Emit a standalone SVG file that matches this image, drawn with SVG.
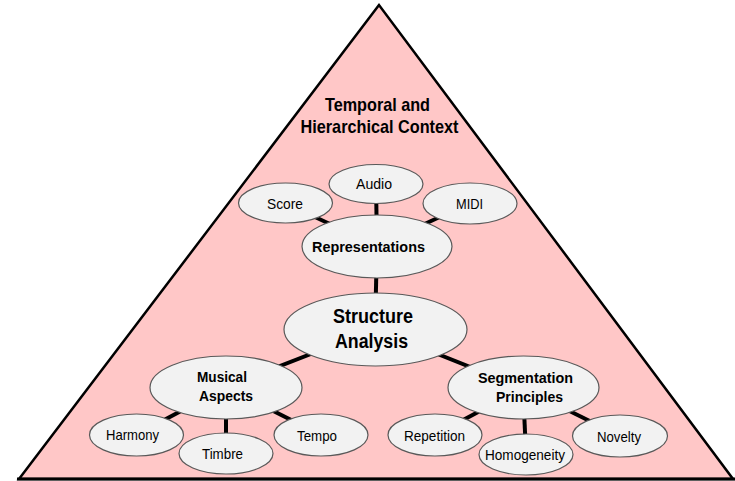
<svg xmlns="http://www.w3.org/2000/svg" width="735" height="481" viewBox="0 0 735 481">
<style>
.n ellipse{fill:#F2F2F2;stroke:#595959;stroke-width:1.2}
text{font-family:"Liberation Sans",Arial,sans-serif;fill:#000;text-anchor:middle}
.s{font-size:15px}
.b{font-size:15px;font-weight:bold}
.t{font-size:19px;font-weight:bold}
.l{font-size:20px;font-weight:bold}
.c line{stroke:#000;stroke-width:4}
</style>
<rect width="735" height="481" fill="#fff"/>
<g id="context">
<polygon points="379,5 19,479 733,479" fill="#FFC7C7" stroke="#000" stroke-width="2.5" stroke-linejoin="miter"/>
<line x1="17" y1="479" x2="735" y2="479" stroke="#000" stroke-width="3"/>
<text class="t" x="377.5" y="111" textLength="105" lengthAdjust="spacingAndGlyphs">Temporal and</text>
<text class="t" x="379.5" y="133" textLength="158" lengthAdjust="spacingAndGlyphs">Hierarchical Context</text>
</g>
<g class="c" id="connectors">
<line x1="285" y1="203" x2="377" y2="246"/>
<line x1="376" y1="184" x2="377" y2="246"/>
<line x1="470" y1="203" x2="377" y2="246"/>
<line x1="377" y1="246" x2="375" y2="329"/>
<line x1="375" y1="329" x2="226" y2="387"/>
<line x1="375" y1="329" x2="523" y2="388"/>
<line x1="226" y1="387" x2="136" y2="435"/>
<line x1="226" y1="387" x2="226" y2="453"/>
<line x1="226" y1="387" x2="321" y2="435"/>
<line x1="523" y1="388" x2="435" y2="435"/>
<line x1="523" y1="388" x2="526" y2="454"/>
<line x1="523" y1="388" x2="620" y2="436"/>
</g>
<g class="n" id="audio"><ellipse cx="376" cy="184" rx="47" ry="19.5"/><text class="s" x="374" y="189" textLength="36" lengthAdjust="spacingAndGlyphs">Audio</text></g>
<g class="n" id="score"><ellipse cx="285.5" cy="203" rx="47" ry="20"/><text class="s" x="285" y="209" textLength="36" lengthAdjust="spacingAndGlyphs">Score</text></g>
<g class="n" id="midi"><ellipse cx="470" cy="203.5" rx="47" ry="20.5"/><text class="s" x="469.5" y="209" textLength="27" lengthAdjust="spacingAndGlyphs">MIDI</text></g>
<g class="n" id="representations"><ellipse cx="377" cy="246.5" rx="75" ry="31.5"/><text class="b" x="368.5" y="252" textLength="113" lengthAdjust="spacingAndGlyphs">Representations</text></g>
<g class="n" id="structure"><ellipse cx="375.5" cy="329.5" rx="91.5" ry="36.5"/><text class="l" x="373" y="323" textLength="80" lengthAdjust="spacingAndGlyphs">Structure</text><text class="l" x="371.5" y="348" textLength="73" lengthAdjust="spacingAndGlyphs">Analysis</text></g>
<g class="n" id="musical"><ellipse cx="226" cy="387.5" rx="76" ry="31.5"/><text class="b" x="222" y="382" textLength="50" lengthAdjust="spacingAndGlyphs">Musical</text><text class="b" x="226" y="401" textLength="54" lengthAdjust="spacingAndGlyphs">Aspects</text></g>
<g class="n" id="segmentation"><ellipse cx="523.5" cy="387.5" rx="75.5" ry="31.5"/><text class="b" x="525.5" y="383" textLength="95" lengthAdjust="spacingAndGlyphs">Segmentation</text><text class="b" x="529.5" y="402" textLength="67" lengthAdjust="spacingAndGlyphs">Principles</text></g>
<g class="n" id="harmony"><ellipse cx="136.5" cy="435" rx="47" ry="21"/><text class="s" x="132.5" y="440" textLength="53" lengthAdjust="spacingAndGlyphs">Harmony</text></g>
<g class="n" id="timbre"><ellipse cx="226" cy="453.5" rx="47" ry="20.5"/><text class="s" x="222.5" y="459" textLength="41" lengthAdjust="spacingAndGlyphs">Timbre</text></g>
<g class="n" id="tempo"><ellipse cx="321" cy="435" rx="47" ry="21"/><text class="s" x="317" y="441" textLength="40" lengthAdjust="spacingAndGlyphs">Tempo</text></g>
<g class="n" id="repetition"><ellipse cx="435" cy="435" rx="47" ry="21"/><text class="s" x="434.5" y="441" textLength="61" lengthAdjust="spacingAndGlyphs">Repetition</text></g>
<g class="n" id="homogeneity"><ellipse cx="526" cy="454.5" rx="47" ry="20.5"/><text class="s" x="525" y="460" textLength="80" lengthAdjust="spacingAndGlyphs">Homogeneity</text></g>
<g class="n" id="novelty"><ellipse cx="620" cy="436" rx="47.5" ry="21"/><text class="s" x="619" y="442" textLength="44" lengthAdjust="spacingAndGlyphs">Novelty</text></g>
</svg>
